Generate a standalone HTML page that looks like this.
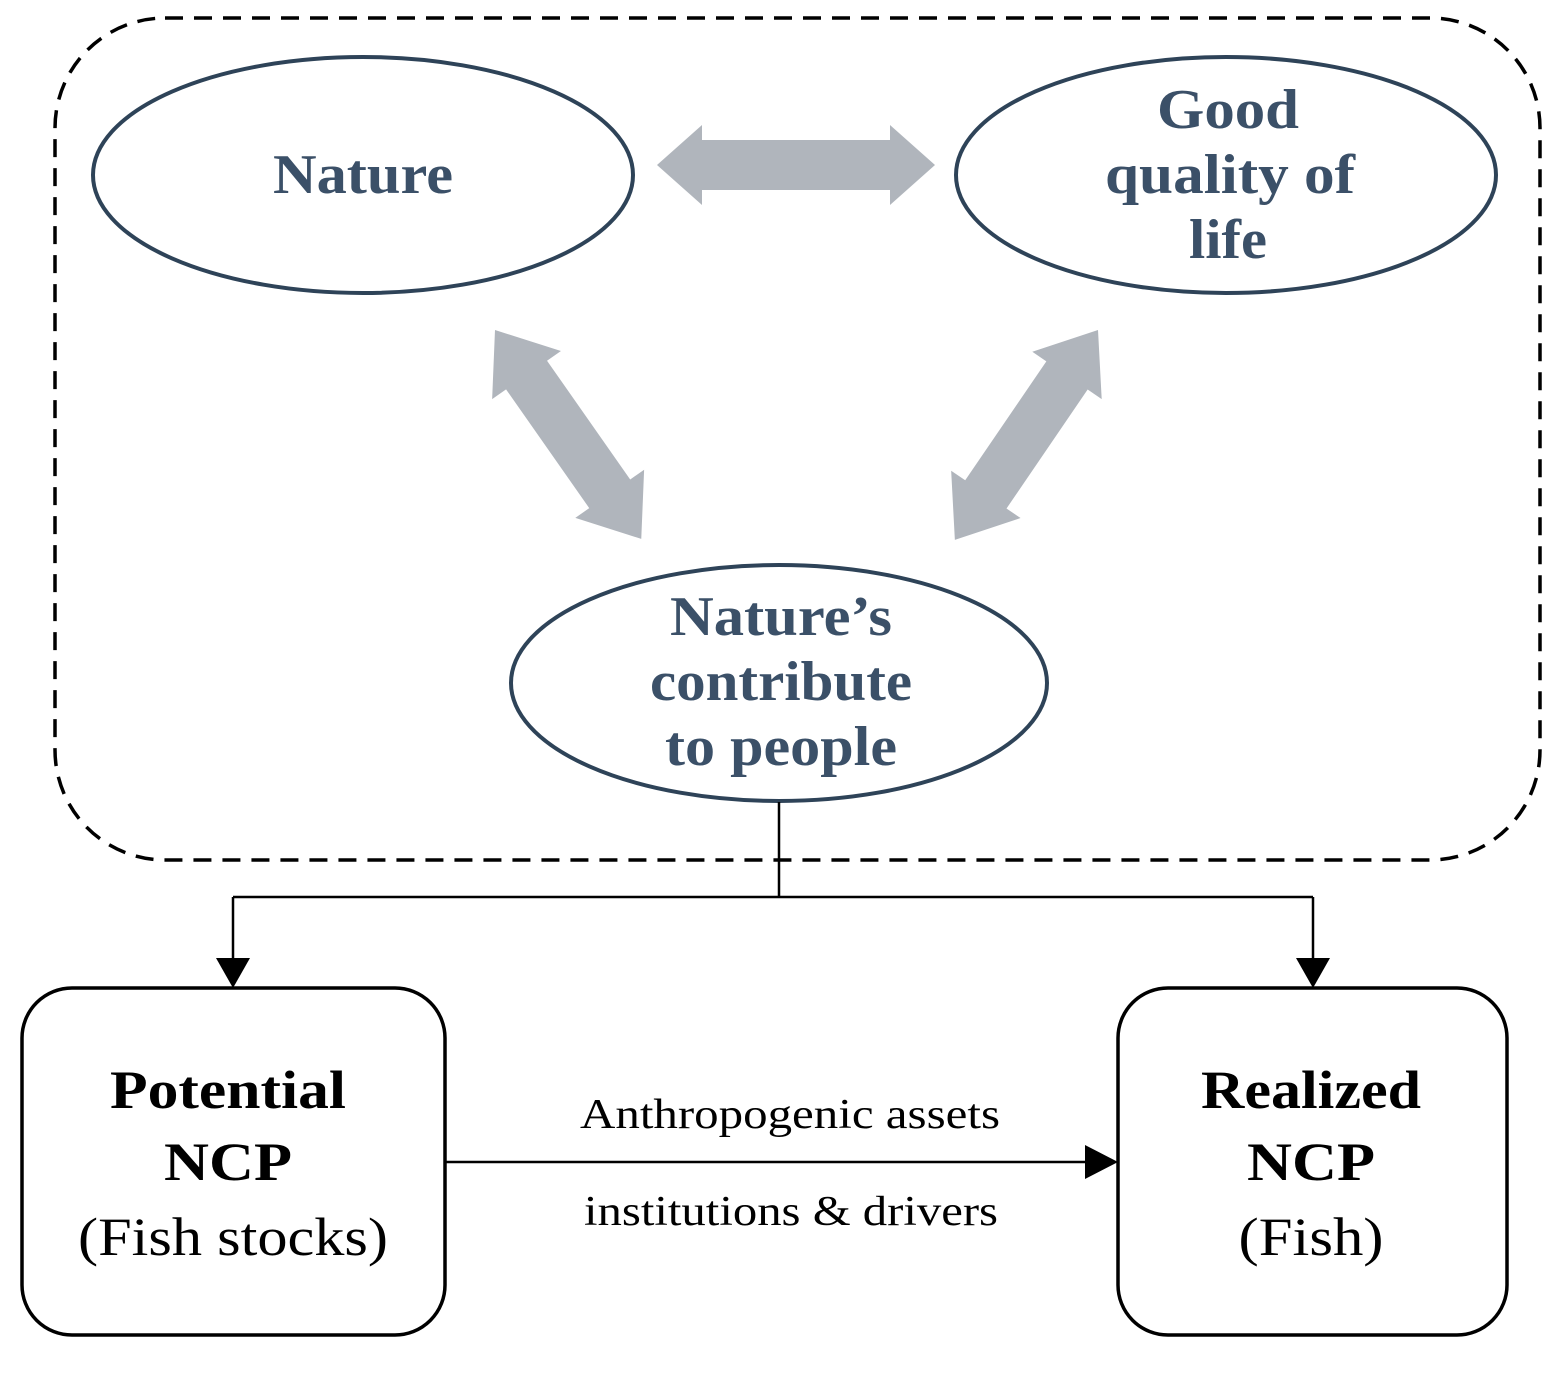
<!DOCTYPE html>
<html><head><style>
html,body{margin:0;padding:0;background:#fff;}
svg{display:block;}
</style></head><body>
<svg width="1565" height="1375" viewBox="0 0 1565 1375" xmlns="http://www.w3.org/2000/svg">
<rect x="55" y="18" width="1485" height="842" rx="110" ry="110" fill="none" stroke="#000" stroke-width="3.5" stroke-dasharray="18,11"/>
<g fill="none" stroke="#2e4358" stroke-width="4">
<ellipse cx="363" cy="175" rx="270" ry="118"/>
<ellipse cx="1226" cy="175" rx="270" ry="118"/>
<ellipse cx="779" cy="683" rx="268" ry="118"/>
</g>
<g fill="#b0b5bc">
<polygon points="657,165 702,125 702,140 890,140 890,125 935,165 890,205 890,190 702,190 702,205"/>
<g transform="translate(495,330) rotate(55)">
<polygon points="0,0 55,-42 55,-25 200,-25 200,-42 255,0 200,42 200,25 55,25 55,42"/>
</g>
<g transform="translate(1098,330) rotate(124.3)">
<polygon points="0,0 55,-42 55,-25 199,-25 199,-42 254,0 199,42 199,25 55,25 55,42"/>
</g>
</g>
<g font-family="'Liberation Serif',serif" font-weight="bold" fill="#3b5068" font-size="56" text-anchor="middle" lengthAdjust="spacingAndGlyphs">
<text x="363" y="193" textLength="180" lengthAdjust="spacingAndGlyphs">Nature</text>
<text x="1228" y="128" textLength="142" lengthAdjust="spacingAndGlyphs">Good</text>
<text x="1230" y="193" textLength="250" lengthAdjust="spacingAndGlyphs">quality of</text>
<text x="1228" y="258" textLength="78" lengthAdjust="spacingAndGlyphs">life</text>
<text x="781" y="635" textLength="222" lengthAdjust="spacingAndGlyphs">Nature’s</text>
<text x="781" y="700" textLength="262" lengthAdjust="spacingAndGlyphs">contribute</text>
<text x="781" y="765" textLength="232" lengthAdjust="spacingAndGlyphs">to people</text>
</g>
<g stroke="#000" stroke-width="2.5" fill="none">
<line x1="779" y1="802" x2="779" y2="897"/>
<line x1="233" y1="897" x2="1313" y2="897"/>
<line x1="233" y1="897" x2="233" y2="960"/>
<line x1="1313" y1="897" x2="1313" y2="960"/>
<line x1="445" y1="1162" x2="1085" y2="1162"/>
<rect x="22" y="988" width="423" height="347" rx="50" stroke-width="3.5"/>
<rect x="1118" y="988" width="389" height="347" rx="50" stroke-width="3.5"/>
</g>
<g fill="#000">
<polygon points="216,958 250,958 233,988"/>
<polygon points="1296,958 1330,958 1313,988"/>
<polygon points="1085,1145 1085,1179 1118,1162"/>
</g>
<g font-family="'Liberation Serif',serif" fill="#000" text-anchor="middle">
<text x="228" y="1108" font-size="54" font-weight="bold" textLength="236" lengthAdjust="spacingAndGlyphs">Potential</text>
<text x="228" y="1180" font-size="54" font-weight="bold" textLength="128" lengthAdjust="spacingAndGlyphs">NCP</text>
<text x="233" y="1255" font-size="54" textLength="310" lengthAdjust="spacingAndGlyphs">(Fish stocks)</text>
<text x="1311" y="1108" font-size="54" font-weight="bold" textLength="220" lengthAdjust="spacingAndGlyphs">Realized</text>
<text x="1311" y="1180" font-size="54" font-weight="bold" textLength="128" lengthAdjust="spacingAndGlyphs">NCP</text>
<text x="1311" y="1255" font-size="54" textLength="145" lengthAdjust="spacingAndGlyphs">(Fish)</text>
<text x="790" y="1128" font-size="42" textLength="420" lengthAdjust="spacingAndGlyphs">Anthropogenic assets</text>
<text x="791" y="1225" font-size="42" textLength="414" lengthAdjust="spacingAndGlyphs">institutions &amp; drivers</text>
</g>
</svg>
</body></html>
